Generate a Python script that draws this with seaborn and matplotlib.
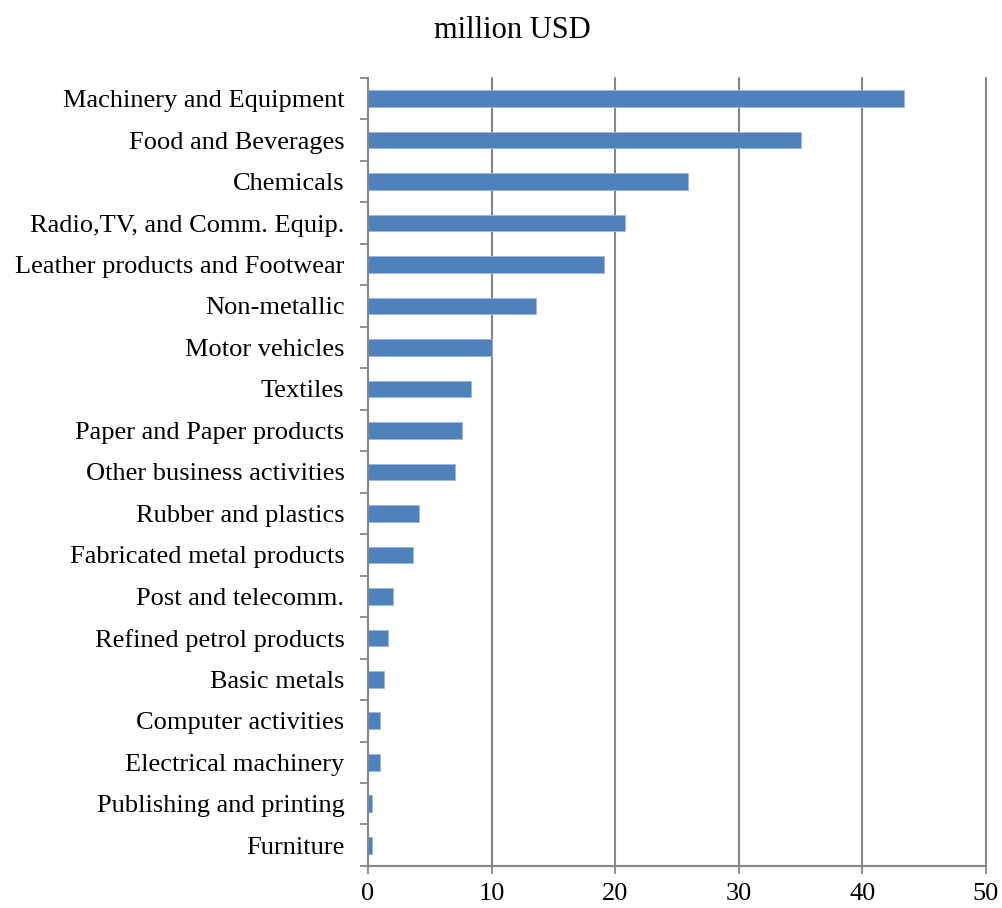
import matplotlib
matplotlib.use("Agg")
import matplotlib.pyplot as plt
import seaborn as sns
import pandas as pd
import numpy as np
from matplotlib.ticker import FixedLocator

categories = [
    "Machinery and Equipment", "Food and Beverages", "Chemicals",
    "Radio,TV, and Comm. Equip.", "Leather products and Footwear",
    "Non-metallic", "Motor vehicles", "Textiles", "Paper and Paper products",
    "Other business activities", "Rubber and plastics",
    "Fabricated metal products", "Post and telecomm.",
    "Refined petrol products", "Basic metals", "Computer activities",
    "Electrical machinery", "Publishing and printing", "Furniture",
]
values = [43.4, 35.0, 25.9, 20.8, 19.1, 13.6, 10.0, 8.3, 7.6, 7.0,
          4.1, 3.6, 2.0, 1.65, 1.3, 1.0, 1.0, 0.3, 0.3]
x_ticks = [0, 10, 20, 30, 40, 50]
title = "million USD"

sns.set_theme(style="white")
plt.rcParams["font.family"] = ["Liberation Serif", "DejaVu Serif"]
plt.rcParams["text.color"] = "black"

df = pd.DataFrame({"category": categories, "value": values})

fig = plt.figure(figsize=(10.02, 9.08), dpi=100)
ax = fig.add_axes([0.3673, 0.0463, 0.6167, 0.868])

sns.barplot(data=df, x="value", y="category", orient="h", color="#4F81BD",
            saturation=1, width=0.4, ax=ax, edgecolor="#9DB7DC", linewidth=0.6)

ax.set_xlim(0, 50)
ax.set_ylim(len(categories) - 0.5, -0.5)
ax.set_xticks(x_ticks)
ax.set_xticklabels([str(t) for t in x_ticks], fontsize=19)
ax.set_xlabel("")
ax.set_ylabel("")
ax.tick_params(axis="y", which="major", length=0, labelsize=19, pad=17, labelcolor="black")
ax.yaxis.set_minor_locator(FixedLocator(np.arange(-0.5, len(categories), 1.0)))
ax.tick_params(axis="y", which="minor", length=6, width=1.3, color="#868686", left=True)
ax.tick_params(axis="x", which="major", length=6, width=1.3, color="#868686",
               bottom=True, pad=6, labelcolor="black")

ax.grid(axis="x", color="#868686", linewidth=1.5)
for gl in ax.get_xgridlines():
    gl.set_clip_on(False)
ax.set_axisbelow(True)
for s in ["top", "right"]:
    ax.spines[s].set_visible(False)
for s in ["left", "bottom"]:
    ax.spines[s].set_visible(True)
    ax.spines[s].set_color("#868686")
    ax.spines[s].set_linewidth(1.5)

fig.text(0.511, 0.966, title, ha="center", va="center", fontsize=22, color="black")

fig.savefig("out.png", dpi=100)
